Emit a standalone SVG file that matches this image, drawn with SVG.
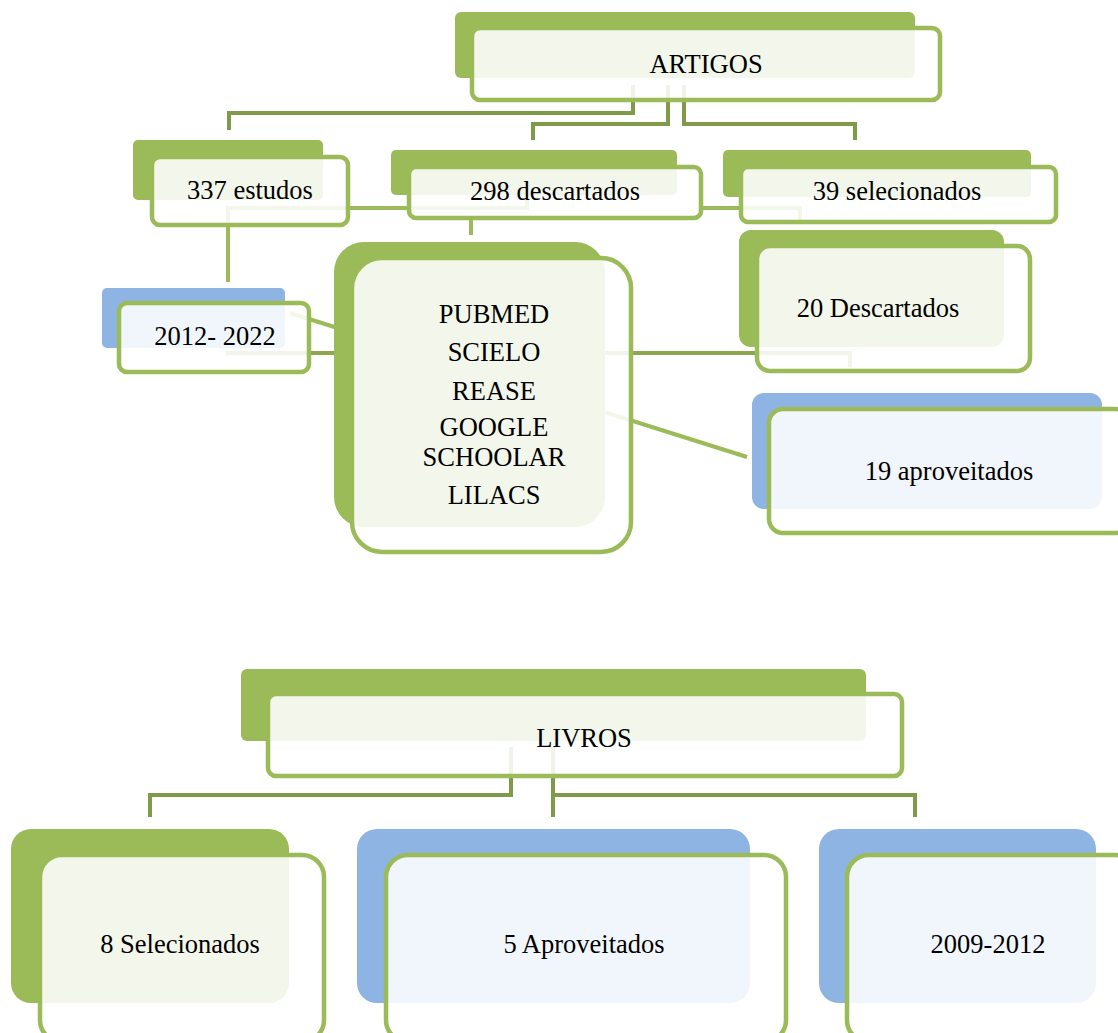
<svg xmlns="http://www.w3.org/2000/svg" width="1118" height="1033" viewBox="0 0 1118 1033">
<style>
.bg{fill:#9BBB59}
.bb{fill:#8EB4E3}
.fr{fill:#ffffff;fill-opacity:0.88;stroke:#9BBB59;stroke-width:4.5}
.cd{fill:none;stroke:#7F9A48;stroke-width:4}
.cl{fill:none;stroke:#9BBB59;stroke-width:4}
.cm{fill:none;stroke:#8BA851;stroke-width:4}
text{font-family:"Liberation Serif","Times New Roman",serif;font-size:26.5px;fill:#000;text-anchor:middle}
</style>
<rect width="1118" height="1033" fill="#ffffff"/>
<g id="connectors">
<polyline class="cd" points="633,85 633,113 229,113 229,130"/>
<polyline class="cd" points="668,85 668,124 533,124 533,140"/>
<polyline class="cd" points="684,85 684,124 855,124 855,140"/>
<polyline class="cl" points="228,282 228,208 527,208 527,200"/>
<polyline class="cl" points="700,208 800,208 800,223"/>
<polyline class="cl" points="471,219 471,235"/>
<polyline class="cm" points="226,353 850,353 850,367"/>
<line class="cl" x1="290" y1="313" x2="747" y2="457"/>
<polyline class="cd" points="511,747 511,795 150,795 150,817"/>
<polyline class="cd" points="553,747 553,817"/>
<polyline class="cd" points="553,795 915,795 915,817"/>
</g>
<g id="artigos">
<rect class="bg" x="455" y="12" width="460" height="66" rx="6"/>
<rect class="fr" x="472" y="28" width="468" height="72" rx="8"/>
<text x="706" y="73">ARTIGOS</text>
</g>
<g id="estudos337">
<rect class="bg" x="133" y="140" width="190" height="60" rx="5"/>
<rect class="fr" x="152" y="157" width="196" height="68" rx="8"/>
<text x="250" y="199">337 estudos</text>
</g>
<g id="descartados298">
<rect class="bg" x="391" y="150" width="286" height="45" rx="5"/>
<rect class="fr" x="409" y="167" width="292" height="51" rx="7"/>
<text x="555" y="200">298 descartados</text>
</g>
<g id="selecionados39">
<rect class="bg" x="723" y="150" width="308" height="47" rx="5"/>
<rect class="fr" x="741" y="167" width="315" height="55" rx="7"/>
<text x="897" y="200">39 selecionados</text>
</g>
<g id="periodo">
<rect class="bb" x="102" y="288" width="183" height="60" rx="5"/>
<rect class="fr" x="119" y="303" width="190" height="69" rx="8"/>
<text x="215" y="345">2012- 2022</text>
</g>
<g id="bases">
<rect class="bg" x="334" y="242" width="271" height="285" rx="30"/>
<rect class="fr" x="352" y="258" width="279" height="294" rx="30"/>
<text x="494" y="323">PUBMED</text>
<text x="494" y="361">SCIELO</text>
<text x="494" y="400">REASE</text>
<text x="494" y="436">GOOGLE</text>
<text x="494" y="466">SCHOOLAR</text>
<text x="494" y="504">LILACS</text>
</g>
<g id="descartados20">
<rect class="bg" x="739" y="230" width="265" height="117" rx="12"/>
<rect class="fr" x="757" y="246" width="273" height="125" rx="13"/>
<text x="878" y="317">20 Descartados</text>
</g>
<g id="aproveitados19">
<rect class="bb" x="752" y="393" width="350" height="116" rx="12"/>
<rect class="fr" x="769" y="409" width="360" height="124" rx="14"/>
<text x="949" y="480">19 aproveitados</text>
</g>
<g id="livros">
<rect class="bg" x="241" y="669" width="625" height="72" rx="6"/>
<rect class="fr" x="268" y="694" width="634" height="82" rx="8"/>
<text x="584" y="747">LIVROS</text>
</g>
<g id="selecionados8">
<rect class="bg" x="11" y="829" width="278" height="174" rx="20"/>
<rect class="fr" x="40" y="855" width="284" height="187" rx="22"/>
<text x="180" y="953">8 Selecionados</text>
</g>
<g id="aproveitados5">
<rect class="bb" x="357" y="829" width="393" height="174" rx="20"/>
<rect class="fr" x="386" y="855" width="400" height="187" rx="22"/>
<text x="584" y="953">5 Aproveitados</text>
</g>
<g id="periodo2">
<rect class="bb" x="819" y="829" width="277" height="174" rx="20"/>
<rect class="fr" x="847" y="855" width="290" height="187" rx="22"/>
<text x="988" y="953">2009-2012</text>
</g>
</svg>
